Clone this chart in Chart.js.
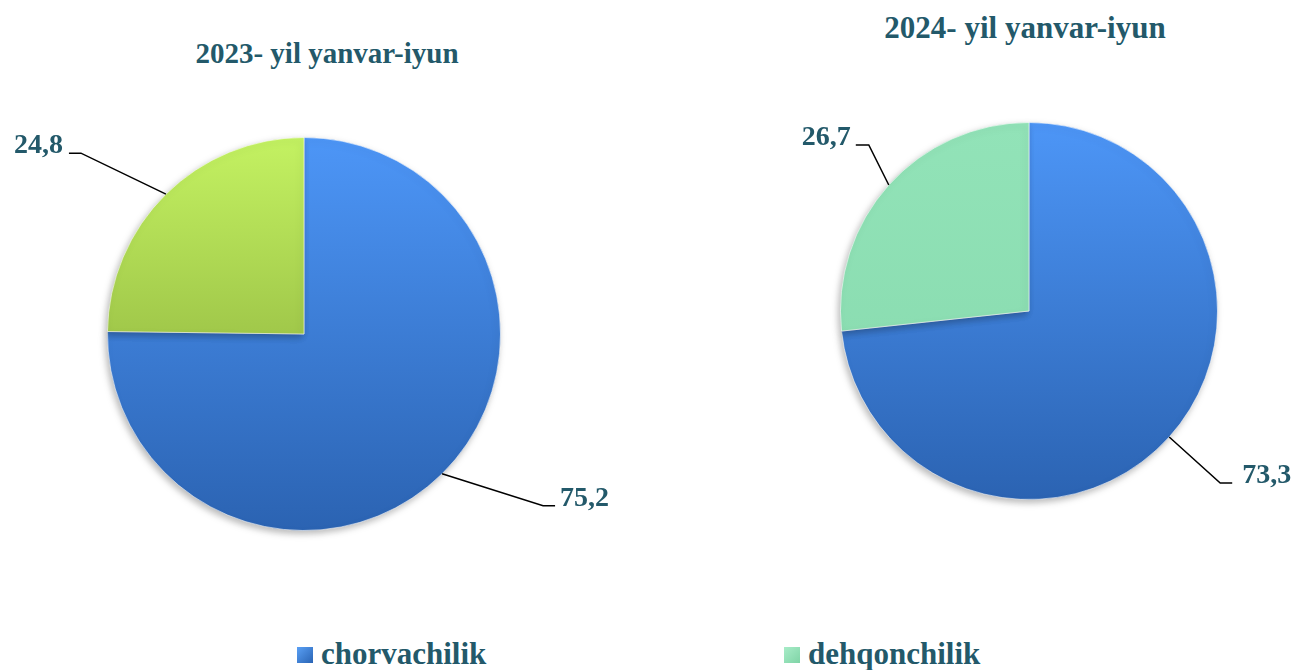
<!DOCTYPE html>
<html>
<head>
<meta charset="utf-8">
<title>chorvachilik / dehqonchilik</title>
<script src="https://cdn.jsdelivr.net/npm/chart.js"></script>
<style>
    body {
        margin: 0;
        background: #ffffff;
        font-family: "Liberation Serif", "Times New Roman", serif;
    }
    #wrap {
        position: relative;
        width: 1293px;
        height: 670px;
        overflow: hidden;
    }
    canvas {
        position: absolute;
        top: 0;
    }
    .title {
        position: absolute;
        color: #23596a;
        font-weight: bold;
        white-space: nowrap;
        transform: translateX(-50%);
    }
    .legend-item {
        position: absolute;
        top: 636px;
        color: #23596a;
        font-weight: bold;
        font-size: 31px;
        white-space: nowrap;
    }
    .legend-item span {
        display: inline-block;
        width: 16px;
        height: 16px;
        margin-right: 8px;
        vertical-align: 1px;
    }
</style>
</head>
<body>
<div id="wrap">
    <div class="title" style="left:327px; top:37px; font-size:29px;">2023- yil yanvar-iyun</div>
    <div class="title" style="left:1025px; top:10px; font-size:31px;">2024- yil yanvar-iyun</div>
    <canvas id="pie2023" width="650" height="620" style="left:0"></canvas>
    <canvas id="pie2024" width="643" height="620" style="left:650px"></canvas>
    <div class="legend-item" style="left:297px;"><span style="background:linear-gradient(135deg,#5aa0f5,#2a64b4);"></span>chorvachilik</div>
    <div class="legend-item" style="left:784px;"><span style="background:linear-gradient(135deg,#a8ecc8,#7fd4a6);"></span>dehqonchilik</div>
</div>

<script>
// categories and values (percent)
const categories = ['chorvachilik', 'dehqonchilik'];
const values2023 = [75.2, 24.8];
const values2024 = [73.3, 26.7];
const labels2023 = ['75,2', '24,8'];
const labels2024 = ['73,3', '26,7'];

// vertical gradient per slice colour
function grad(chart, top, bottom) {
    const area = chart.chartArea;
    if (!area) return top;
    const g = chart.ctx.createLinearGradient(0, area.top, 0, area.bottom);
    g.addColorStop(0, top);
    g.addColorStop(1, bottom);
    return g;
}

// soft shadow under the pie
const shadowPlugin = {
    id: 'pieShadow',
    beforeDatasetsDraw(chart) {
        const ctx = chart.ctx;
        ctx.save();
        ctx.shadowColor = 'rgba(0,0,0,0.28)';
        ctx.shadowBlur = 7;
        ctx.shadowOffsetX = -2;
        ctx.shadowOffsetY = 3;
    },
    afterDatasetsDraw(chart) {
        chart.ctx.restore();
    }
};

// value labels with leader lines
const leaderPlugin = {
    id: 'leaders',
    afterDraw(chart, args, opts) {
        const ctx = chart.ctx;
        const meta = chart.getDatasetMeta(0);
        ctx.save();
        meta.data.forEach((arc, i) => {
            const p = arc.getProps(['x', 'y', 'startAngle', 'endAngle', 'outerRadius'], true);
            const mid = (p.startAngle + p.endAngle) / 2;
            const ex = p.x + Math.cos(mid) * p.outerRadius;
            const ey = p.y + Math.sin(mid) * p.outerRadius;
            const o = opts.offsets[i];
            const bx = ex + o.dx;
            const by = ey + o.dy;
            const tx = bx + o.tail;
            ctx.strokeStyle = '#000000';
            ctx.lineWidth = 1.5;
            ctx.beginPath();
            ctx.moveTo(ex, ey);
            ctx.lineTo(bx, by);
            ctx.lineTo(tx, by);
            ctx.stroke();
            ctx.fillStyle = '#23596a';
            ctx.font = 'bold 28px "Liberation Serif", "Times New Roman", serif';
            ctx.textBaseline = 'alphabetic';
            if (o.tail > 0) {
                ctx.textAlign = 'left';
                ctx.fillText(opts.texts[i], tx + o.gap, by);
            } else {
                ctx.textAlign = 'right';
                ctx.fillText(opts.texts[i], tx - o.gap, by);
            }
        });
        ctx.restore();
    }
};

function makePie(id, values, texts, second, padding, offsets) {
    return new Chart(document.getElementById(id), {
        type: 'pie',
        data: {
            labels: categories,
            datasets: [{
                data: values,
                backgroundColor: (c) => c.dataIndex === 0
                    ? grad(c.chart, '#4d96f7', '#2b63b2')
                    : grad(c.chart, second[0], second[1]),
                borderColor: 'rgba(255,255,255,0.55)',
                borderWidth: 1
            }]
        },
        options: {
            responsive: false,
            animation: false,
            devicePixelRatio: 1,
            layout: { padding: padding },
            plugins: {
                legend: { display: false },
                tooltip: { enabled: false },
                leaders: { texts: texts, offsets: offsets }
            }
        },
        plugins: [shadowPlugin, leaderPlugin]
    });
}

makePie('pie2023', values2023, labels2023, ['#c4f262', '#7d9e32'],
    { left: 107, top: 137, right: 149, bottom: 89 },
    [{ dx: 101, dy: 32, tail: 12, gap: 5 }, { dx: -85, dy: -41, tail: -12, gap: 6 }]);

makePie('pie2024', values2024, labels2024, ['#92e3b8', '#86d9ad'],
    { left: 190, top: 122, right: 75, bottom: 120 },
    [{ dx: 51, dy: 46, tail: 12, gap: 10 }, { dx: -20, dy: -40, tail: -13, gap: 5 }]);
</script>
</body>
</html>
